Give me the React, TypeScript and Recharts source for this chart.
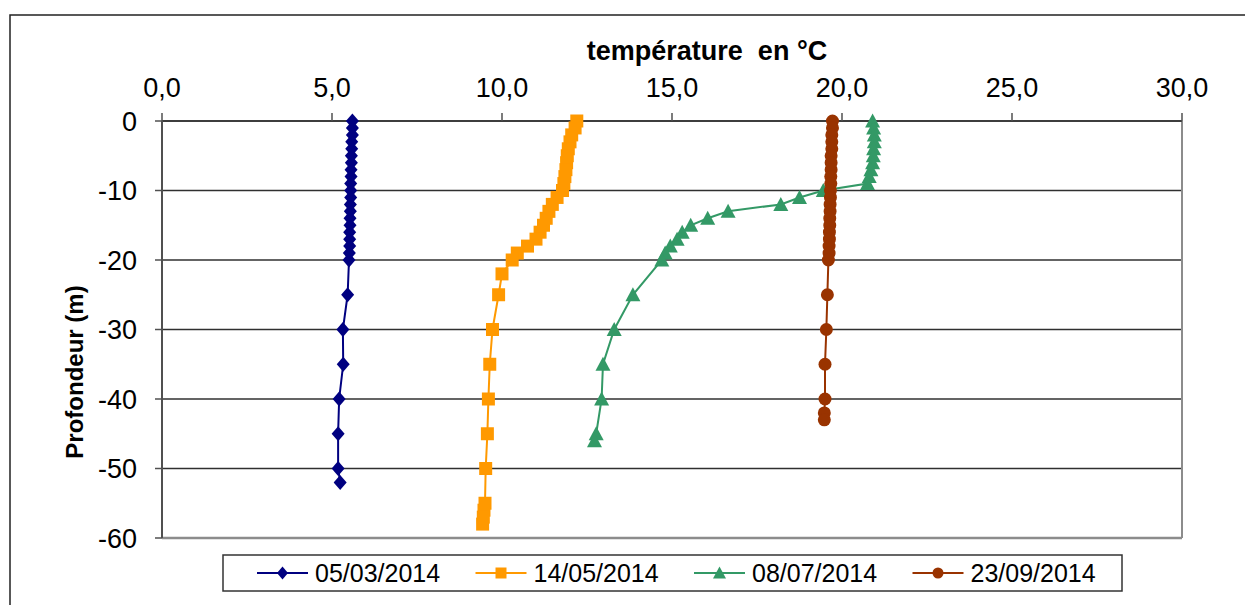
import React from 'react';
import { ScatterChart, Scatter, XAxis, YAxis, CartesianGrid, ReferenceLine } from 'recharts';

// ---- data ----
const depths1 = [0, -1, -2, -3, -4, -5, -6, -7, -8, -9, -10, -11, -12, -13, -14, -15, -16, -17, -18, -19, -20, -25, -30, -35, -40, -45, -50, -52];
const temps1 = [5.6, 5.6, 5.6, 5.58, 5.58, 5.57, 5.57, 5.56, 5.56, 5.55, 5.55, 5.55, 5.54, 5.54, 5.53, 5.53, 5.52, 5.52, 5.52, 5.51, 5.5, 5.46, 5.32, 5.33, 5.21, 5.18, 5.18, 5.24];

const depths2 = [0, -1, -2, -3, -4, -5, -6, -7, -8, -9, -10, -11, -12, -13, -14, -15, -16, -17, -18, -19, -20, -22, -25, -30, -35, -40, -45, -50, -55, -56, -57, -58];
const temps2 = [12.2, 12.15, 12.05, 12.0, 11.95, 11.92, 11.9, 11.88, 11.85, 11.82, 11.78, 11.62, 11.48, 11.38, 11.3, 11.22, 11.12, 11.0, 10.75, 10.45, 10.3, 10.0, 9.9, 9.72, 9.64, 9.6, 9.57, 9.52, 9.5, 9.47, 9.45, 9.43];

const depths3 = [0, -1, -2, -3, -4, -5, -6, -7, -8, -9, -10, -11, -12, -13, -14, -15, -16, -17, -18, -19, -20, -25, -30, -35, -40, -45, -46];
const temps3 = [20.9, 20.93, 20.95, 20.95, 20.93, 20.92, 20.9, 20.85, 20.8, 20.75, 19.45, 18.75, 18.2, 16.65, 16.05, 15.55, 15.3, 15.15, 14.95, 14.8, 14.7, 13.85, 13.3, 12.97, 12.93, 12.77, 12.72];

const depths4 = [0, -1, -2, -3, -4, -5, -6, -7, -8, -9, -10, -11, -12, -13, -14, -15, -16, -17, -18, -19, -20, -25, -30, -35, -40, -42, -43];
const temps4 = [19.72, 19.72, 19.7, 19.7, 19.7, 19.68, 19.68, 19.68, 19.67, 19.67, 19.66, 19.66, 19.65, 19.65, 19.64, 19.64, 19.63, 19.63, 19.62, 19.62, 19.6, 19.57, 19.54, 19.5, 19.5, 19.48, 19.48];

const seriesNames = ['05/03/2014', '14/05/2014', '08/07/2014', '23/09/2014'];
const seriesColors = ['#000080', '#FF9900', '#339966', '#993300'];
const seriesShapes = ['diamond', 'square', 'triangle', 'circle'];

const xTicks = [0, 5, 10, 15, 20, 25, 30];
const yTicks = [-60, -50, -40, -30, -20, -10, 0];

const xTitle = 'température  en °C';
const yTitle = 'Profondeur (m)';

const toPoints = (temps: number[], depths: number[]) => temps.map((t, i) => ({ t, d: depths[i] }));
const seriesData = [
  toPoints(temps1, depths1),
  toPoints(temps2, depths2),
  toPoints(temps3, depths3),
  toPoints(temps4, depths4),
];

const FONT = '"Liberation Sans", Arial, sans-serif';

function markerPath(kind: string, cx: number, cy: number, s: number) {
  const h = s / 2;
  switch (kind) {
    case 'diamond':
      return `M${cx},${cy - h - 1}L${cx + h},${cy}L${cx},${cy + h + 1}L${cx - h},${cy}Z`;
    case 'square':
      return `M${cx - h},${cy - h}L${cx + h},${cy - h}L${cx + h},${cy + h}L${cx - h},${cy + h}Z`;
    case 'triangle':
      return `M${cx},${cy - h - 1}L${cx + h + 1},${cy + h}L${cx - h - 1},${cy + h}Z`;
    default:
      return `M${cx - h},${cy}a${h},${h} 0 1,0 ${2 * h},0a${h},${h} 0 1,0 ${-2 * h},0Z`;
  }
}

const makeShape = (kind: string, color: string, size: number) => (props: any) => {
  const { cx, cy } = props;
  if (cx == null || cy == null) return <g />;
  return <path d={markerPath(kind, cx, cy, size)} fill={color} stroke="none" />;
};

const fmtX = (v: number) => v.toFixed(1).replace('.', ',');

export default function App() {
  const W = 1253;
  const H = 613;
  return (
    <div style={{ position: 'relative', width: W, height: H, margin: -8, overflow: 'hidden', background: '#fff', fontFamily: FONT }}>
      <div style={{ position: 'absolute', left: 0, top: 0 }}>
        <ScatterChart width={W} height={H} margin={{ top: 81, right: 71, bottom: 75, left: 0 }}>
          <CartesianGrid vertical={false} stroke="#303030" strokeWidth={1.5} />
          <XAxis
            type="number"
            dataKey="t"
            orientation="top"
            domain={[0, 30]}
            ticks={xTicks}
            tickFormatter={fmtX}
            height={40}
            tickSize={8}
            tickMargin={16}
            axisLine={{ stroke: '#303030', strokeWidth: 1.5 }}
            tickLine={{ stroke: '#505050', strokeWidth: 1.5 }}
            tick={{ fontSize: 27, fill: '#000', fontFamily: FONT }}
            interval={0}
          />
          <YAxis
            type="number"
            dataKey="d"
            domain={[-60, 0]}
            ticks={yTicks}
            width={162}
            tickSize={7}
            tickMargin={18}
            axisLine={{ stroke: '#505050', strokeWidth: 2 }}
            tickLine={{ stroke: '#505050', strokeWidth: 1.5 }}
            tick={{ fontSize: 27, fill: '#000', fontFamily: FONT }}
            interval={0}
          />
          <ReferenceLine y={-60} stroke="#8c8c8c" strokeWidth={2.5} />
          <ReferenceLine x={30} stroke="#8c8c8c" strokeWidth={2} />
          {seriesData.map((data, i) => (
            <Scatter
              key={seriesNames[i]}
              name={seriesNames[i]}
              data={data}
              fill={seriesColors[i]}
              line={{ stroke: seriesColors[i], strokeWidth: 2 }}
              lineType="joint"
              shape={makeShape(seriesShapes[i], seriesColors[i], 13)}
              isAnimationActive={false}
            />
          ))}
        </ScatterChart>
      </div>
      <svg width={W} height={H} style={{ position: 'absolute', left: 0, top: 0, pointerEvents: 'none' }}>
        {/* outer frame */}
        <rect x={10} y={15} width={W + 20} height={H + 20} fill="none" stroke="#222" strokeWidth={1.5} />
        {/* titles */}
        <text
          x={707}
          y={60}
          textAnchor="middle"
          fontSize={27}
          fontWeight="bold"
          fontFamily={FONT}
          fill="#000"
          style={{ whiteSpace: 'pre' }}
          xmlSpace="preserve"
        >
          {xTitle}
        </text>
        <text
          x={0}
          y={0}
          transform="translate(83,372) rotate(-90)"
          textAnchor="middle"
          fontSize={24}
          fontWeight="bold"
          fontFamily={FONT}
          fill="#000"
        >
          {yTitle}
        </text>
        {/* legend */}
        <rect x={223} y={555} width={899} height={36} fill="#fff" stroke="#333" strokeWidth={1.5} />
        {seriesNames.map((name, i) => {
          const x0 = 257 + i * 218.5;
          const cy = 573;
          return (
            <g key={name}>
              <line x1={x0} y1={cy} x2={x0 + 51} y2={cy} stroke={seriesColors[i]} strokeWidth={2} />
              <path d={markerPath(seriesShapes[i], x0 + 25.5, cy, 11)} fill={seriesColors[i]} />
              <text x={x0 + 58} y={cy + 9} fontSize={25} fontFamily={FONT} fill="#000">
                {name}
              </text>
            </g>
          );
        })}
      </svg>
    </div>
  );
}
